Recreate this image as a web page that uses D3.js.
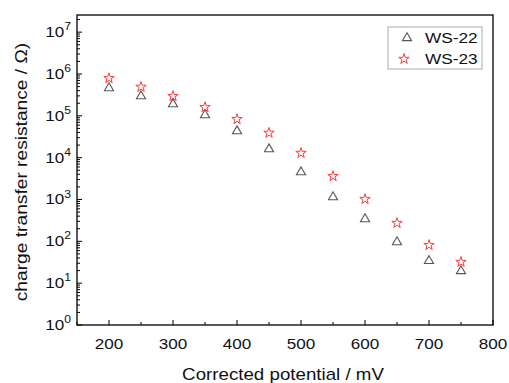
<!DOCTYPE html>
<html><head><meta charset="utf-8">
<script src="https://cdn.jsdelivr.net/npm/d3@7"></script>
<style>body{margin:0;background:#fff}svg{display:block}text{font-family:Arial,"Liberation Sans",sans-serif;fill:#111}</style>
</head><body>
<script>
const potentials = [200,250,300,350,400,450,500,550,600,650,700,750];
const ws22 = [4.6e5,2.95e5,1.9e5,1.04e5,4.3e4,1.6e4,4.5e3,1.14e3,340,96,34,19.5];
const ws23 = [7.9e5,4.9e5,2.95e5,1.6e5,8.3e4,3.9e4,1.29e4,3.6e3,1020,273,81,32];
const xTicks = [200,300,400,500,600,700,800];
const yExponents = [0,1,2,3,4,5,6,7];
const seriesNames = ["WS-22","WS-23"];

const W=509,H=383;
const m={l:77,t:15,r:493,b:325};
const SX=1.22;
const svg=d3.select("body").append("svg").attr("width",W).attr("height",H);
const x=d3.scaleLinear().domain([150,800]).range([m.l,m.r]);
const y=d3.scaleLog().domain([1,Math.pow(10,7.41)]).range([m.b,m.t]);

function label(parent,px,py,txt,fs,anchor,rot,sx){
  const g=parent.append("g").attr("transform",`translate(${px},${py})${rot?` rotate(${rot})`:""} scale(${sx||SX},1)`);
  return g.append("text").attr("text-anchor",anchor||"middle").attr("font-size",fs).text(txt);
}

svg.append("rect").attr("x",m.l).attr("y",m.t).attr("width",m.r-m.l).attr("height",m.b-m.t)
  .attr("fill","none").attr("stroke","#000").attr("stroke-width",1.3);

const xMinor=d3.range(150,801,50);
const gx=svg.append("g");
xMinor.forEach(v=>{
  const major=xTicks.includes(v);
  gx.append("line").attr("x1",x(v)).attr("x2",x(v)).attr("y1",m.b).attr("y2",m.b-(major?5:3)).attr("stroke","#000");
});
xTicks.forEach(v=>label(gx,x(v),m.b+24,v,14,"middle"));
label(svg,283,380,"Corrected potential / mV",16,"middle",0,1.17);

const gy=svg.append("g");
yExponents.forEach(e=>{
  const v=Math.pow(10,e);
  gy.append("line").attr("x1",m.l).attr("x2",m.l+5).attr("y1",y(v)).attr("y2",y(v)).attr("stroke","#000");
  for(let k=2;k<=9;k++){
    const mv=k*v;
    if(mv<=y.domain()[1]) gy.append("line").attr("x1",m.l).attr("x2",m.l+3).attr("y1",y(mv)).attr("y2",y(mv)).attr("stroke","#000");
  }
  const t=label(gy,m.l-6,y(v)+5,"",14,"end");
  t.text(null);
  t.append("tspan").text("10");
  t.append("tspan").attr("dy",-7).attr("font-size",10).text(e);
});
label(svg,27,(m.t+m.b)/2+2,"charge transfer resistance / \u03A9)",16,"middle",-90,1.2);

const tri=d3.symbol().type(d3.symbolTriangle).size(36);
const star=d3.symbol().type(d3.symbolStar).size(34);
svg.append("g").selectAll("path").data(potentials.map((p,i)=>[p,ws22[i]])).join("path")
  .attr("d",tri).attr("transform",d=>`translate(${x(d[0])},${y(d[1])})`).attr("fill","none").attr("stroke","#555").attr("stroke-width",1.1);
svg.append("g").selectAll("path").data(potentials.map((p,i)=>[p,ws23[i]])).join("path")
  .attr("d",star).attr("transform",d=>`translate(${x(d[0])},${y(d[1])})`).attr("fill","none").attr("stroke","#ff3b3b").attr("stroke-width",1);

const lg=svg.append("g");
lg.append("rect").attr("x",388).attr("y",27).attr("width",94).attr("height",42).attr("fill","#fff").attr("stroke","#aaa").attr("stroke-width",1);
lg.append("path").attr("d",tri).attr("transform","translate(407,38)").attr("fill","none").attr("stroke","#555").attr("stroke-width",1.1);
lg.append("path").attr("d",star).attr("transform","translate(404,59)").attr("fill","none").attr("stroke","#ff3b3b").attr("stroke-width",1);
label(lg,425,43,seriesNames[0],15,"start",0,1.15);
label(lg,425,64,seriesNames[1],15,"start",0,1.15);
</script>
</body></html>
